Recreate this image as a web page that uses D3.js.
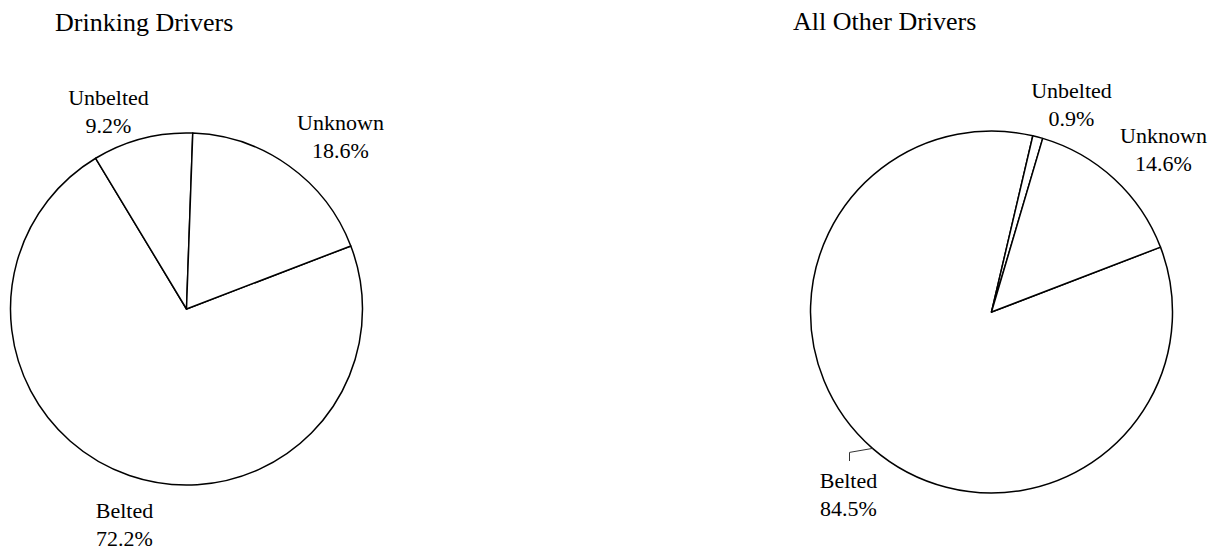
<!DOCTYPE html>
<html>
<head>
<meta charset="utf-8">
<script src="https://cdn.jsdelivr.net/npm/d3@7"></script>
<style>
  html, body { margin: 0; padding: 0; background: #fff; }
  svg { display: block; }
</style>
</head>
<body>
<svg id="chart" width="1217" height="555"></svg>
<script>
// Restraint use by driver group (percent of drivers)
const categories = ["Belted", "Unbelted", "Unknown"];
const chartTitles = ["Drinking Drivers", "All Other Drivers"];
const drinkingValues = [72.2, 9.2, 18.6];
const otherValues = [84.5, 0.9, 14.6];

const FONT = "'Liberation Serif', 'Times New Roman', Times, serif";

// Layout of each pie: centre, radius, title anchor, and label anchors (relative to centre)
const layouts = [
  {
    cx: 186.5, cy: 309, r: 176,
    title: { x: 55, y: 31 },
    labels: {
      Belted:   { dx: -62, dy: 209 },
      Unbelted: { dx: -78, dy: -204 },
      Unknown:  { dx: 154, dy: -179 }
    }
  },
  {
    cx: 991.5, cy: 312, r: 181,
    title: { x: 793, y: 30 },
    labels: {
      Belted:   { dx: -143, dy: 176, leader: true },
      Unbelted: { dx: 80, dy: -214 },
      Unknown:  { dx: 172, dy: -169 }
    }
  }
];

const svg = d3.select("#chart");
const deg = Math.PI / 180;

const pie = d3.pie()
  .sort(null)
  .value(d => d.value)
  .startAngle(69 * deg)
  .endAngle(69 * deg + 2 * Math.PI);

[drinkingValues, otherValues].forEach((values, i) => {
  const L = layouts[i];
  const data = categories.map((c, k) => ({ name: c, value: values[k] }));
  const arc = d3.arc().innerRadius(0).outerRadius(L.r);

  svg.append("text")
    .attr("x", L.title.x)
    .attr("y", L.title.y)
    .attr("font-family", FONT)
    .attr("font-size", 26)
    .attr("fill", "#000")
    .text(chartTitles[i]);

  const g = svg.append("g").attr("transform", `translate(${L.cx},${L.cy})`);

  g.selectAll("path.slice")
    .data(pie(data))
    .join("path")
    .attr("class", "slice")
    .attr("d", arc)
    .attr("fill", "#fff")
    .attr("stroke", "#000")
    .attr("stroke-width", 1.5)
    .attr("stroke-linejoin", "round");

  const fmt = d3.format(".1f");
  pie(data).forEach(s => {
    const p = L.labels[s.data.name];
    const t = g.append("text")
      .attr("text-anchor", "middle")
      .attr("font-family", FONT)
      .attr("font-size", 22)
      .attr("fill", "#000")
      .attr("x", p.dx)
      .attr("y", p.dy);
    t.append("tspan").attr("x", p.dx).attr("dy", 0).text(s.data.name);
    t.append("tspan").attr("x", p.dx).attr("dy", 28.3).text(fmt(s.data.value) + "%");

    if (p.leader) {
      // leader from the slice's mid-angle on the rim to the top of the label
      const a = (s.startAngle + s.endAngle) / 2;
      const ex = L.r * Math.sin(a), ey = -L.r * Math.cos(a);
      g.append("path")
        .attr("d", `M${ex},${ey}L${p.dx + 1},${ey + 4}L${p.dx + 1},${p.dy - 27}`)
        .attr("fill", "none")
        .attr("stroke", "#333")
        .attr("stroke-width", 1);
    }
  });
});
</script>
</body>
</html>
